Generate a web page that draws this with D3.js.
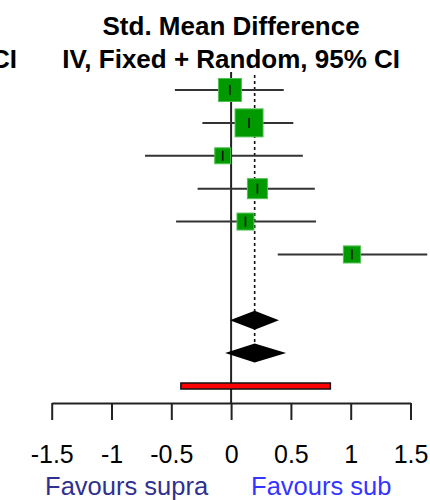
<!DOCTYPE html>
<html>
<head>
<meta charset="utf-8">
<script src="https://cdn.jsdelivr.net/npm/d3@7"></script>
<style>
  body { margin: 0; background: #fff; }
  svg { display: block; font-family: "Liberation Sans", Arial, sans-serif; }
</style>
</head>
<body>
<div id="chart"></div>
<script>
// Data___________________________________________
const est    = [-0.01, 0.15, -0.07, 0.22, 0.12, 1.01];
const lower  = [-0.47, -0.24, -0.72, -0.28, -0.46, 0.39];
const upper  = [0.44, 0.52, 0.60, 0.70, 0.71, 1.64];
const weight = [20.8, 30.8, 10.0, 15.7, 11.3, 11.4];

const fixedEff  = [-0.01, 0.197, 0.40];   // lo, est, hi
const randomEff = [-0.05, 0.197, 0.46];
const predInt   = [-0.42, 0.83];

const ticks = [-1.5, -1, -0.5, 0, 0.5, 1, 1.5];
const titleLines = ['Std. Mean Difference', 'IV, Fixed + Random, 95% CI'];
const favours = ['Favours supra', 'Favours sub'];

// Layout__________________________________________
const width = 430, height = 500;
const axisY = 403;

const svg = d3.select('#chart').append('svg')
    .attr('width', width)
    .attr('height', height);

const x = d3.scaleLinear().domain([-1.5, 1.5]).range([51.7, 410.5]);
const y = d3.scaleLinear().domain([0, 9]).range([90, 386]);
const side = d3.scaleSqrt().domain([0, 30.8]).range([0, 28]);

// Headers_________________________________________
svg.selectAll('text.title')
    .data(titleLines)
    .enter()
    .append('text')
    .attr('class', 'title')
    .attr('x', x(0))
    .attr('y', (d, i) => 35 + i * 33.3)
    .attr('text-anchor', 'middle')
    .style('font-weight', 'bold')
    .style('font-size', '26px')
    .text(d => d);

svg.append('text')
    .attr('x', 17)
    .attr('y', 68.3)
    .attr('text-anchor', 'end')
    .style('font-weight', 'bold')
    .style('font-size', '26px')
    .text('95% CI');

// Reference lines_________________________________
svg.append('line')
    .attr('x1', x(0)).attr('x2', x(0))
    .attr('y1', 72).attr('y2', axisY)
    .attr('stroke', '#222')
    .attr('stroke-width', 2);

svg.append('line')
    .attr('x1', x(fixedEff[1])).attr('x2', x(fixedEff[1]))
    .attr('y1', 75).attr('y2', y(8) - 8)
    .attr('stroke', '#111')
    .attr('stroke-width', 1.6)
    .attr('stroke-dasharray', '3,3');

// Study rows______________________________________
const rows = est.map((d, i) => ({ est: d, lo: lower[i], hi: upper[i], w: weight[i], i }));

svg.selectAll('line.ci')
    .data(rows)
    .enter()
    .append('line')
    .attr('class', 'ci')
    .attr('x1', d => x(d.lo)).attr('x2', d => x(d.hi))
    .attr('y1', d => y(d.i)).attr('y2', d => y(d.i))
    .attr('stroke', '#333')
    .attr('stroke-width', 2);

svg.selectAll('rect.box')
    .data(rows)
    .enter()
    .append('rect')
    .attr('class', 'box')
    .attr('x', d => x(d.est) - side(d.w) / 2)
    .attr('y', d => y(d.i) - side(d.w) / 2)
    .attr('width', d => side(d.w))
    .attr('height', d => side(d.w))
    .attr('fill', '#009a00')
    .attr('stroke', '#50c050')
    .attr('stroke-width', 1);

svg.selectAll('line.pt')
    .data(rows)
    .enter()
    .append('line')
    .attr('class', 'pt')
    .attr('x1', d => x(d.est)).attr('x2', d => x(d.est))
    .attr('y1', d => y(d.i) - 5).attr('y2', d => y(d.i) + 5)
    .attr('stroke', '#111')
    .attr('stroke-width', 1.6);

// Pooled diamonds_________________________________
svg.selectAll('path.diamond')
    .data([fixedEff, randomEff])
    .enter()
    .append('path')
    .attr('class', 'diamond')
    .attr('d', (d, i) => {
        const cy = y(7 + i);
        return `M${x(d[0])},${cy} L${x(d[1])},${cy - 9.5} L${x(d[2])},${cy} L${x(d[1])},${cy + 9.5} Z`;
    })
    .attr('fill', '#000');

// Prediction interval_____________________________
svg.append('rect')
    .attr('x', x(predInt[0]))
    .attr('y', y(9) - 3)
    .attr('width', x(predInt[1]) - x(predInt[0]))
    .attr('height', 6)
    .attr('fill', '#ff0000')
    .attr('stroke', '#111')
    .attr('stroke-width', 1.5);

// Axis____________________________________________
const xAxis = d3.axisBottom(x)
    .tickValues(ticks)
    .tickSize(17)
    .tickSizeOuter(0)
    .tickFormat(d => String(d));

const gAxis = svg.append('g')
    .attr('transform', `translate(0, ${axisY})`)
    .call(xAxis);

gAxis.select('.domain').attr('stroke', '#222').attr('stroke-width', 2);
gAxis.selectAll('.tick line').attr('stroke', '#222').attr('stroke-width', 2);
gAxis.selectAll('.tick text')
    .attr('y', 60)
    .attr('dy', 0)
    .attr('fill', '#000')
    .style('font-family', '"Liberation Sans", Arial, sans-serif')
    .style('font-size', '25px');

// Favours labels__________________________________
svg.selectAll('text.favours')
    .data(favours)
    .enter()
    .append('text')
    .attr('class', 'favours')
    .attr('x', (d, i) => i === 0 ? x(0) - 23 : x(0) + 20)
    .attr('y', 495)
    .attr('text-anchor', (d, i) => i === 0 ? 'end' : 'start')
    .attr('fill', (d, i) => i === 0 ? '#30308f' : '#3535ff')
    .style('font-size', '25.5px')
    .text(d => d);
</script>
</body>
</html>
